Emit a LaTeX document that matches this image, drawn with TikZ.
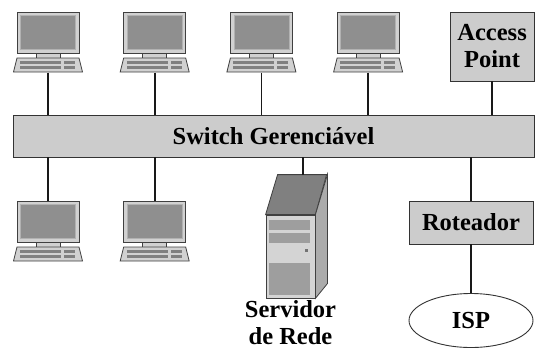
\documentclass[tikz,border=0pt]{standalone}
\usepackage{fontspec}
\setmainfont{Liberation Serif}
\usepackage{tikz}
\usetikzlibrary{calc, arrows, positioning, shapes.geometric}
\newcommand{\fonte}{\bfseries\fontsize{24.5}{27}\selectfont}
\tikzstyle{caixa}=[draw=black!80, fill=black!20, line width=0.9pt, inner sep=0pt, align=center, font=\fonte]
\tikzstyle{nuvem}=[ellipse, draw=black!80, fill=white, line width=0.9pt, minimum width=124pt, minimum height=54pt, inner sep=0pt, font=\fonte]
\tikzstyle{rotulo}=[align=center, inner sep=0pt, font=\fonte]
\tikzstyle{cabo}=[draw=black!90, line width=1.7pt]
\tikzstyle{monitor}=[draw=black!75, fill=black!18, line width=0.8pt, minimum width=62pt, minimum height=41pt, inner sep=0pt,
  path picture={\draw[black!30, fill=black!44, line width=0.6pt] ([shift={(3.5pt,3.5pt)}]path picture bounding box.south west) rectangle ([shift={(-3.5pt,-3.5pt)}]path picture bounding box.north east);}]
\tikzstyle{suporte}=[draw=black!75, fill=black!18, line width=0.8pt, minimum width=24pt, minimum height=5pt, inner sep=0pt]
\tikzstyle{teclado}=[fill=white, minimum width=70pt, minimum height=15pt, inner sep=0pt,
  path picture={\draw[draw=black!75, fill=black!18, line width=0.8pt] ([shift={(4pt,-0.5pt)}]path picture bounding box.north west) -- ([shift={(-4pt,-0.5pt)}]path picture bounding box.north east) -- ([shift={(-0.5pt,0.5pt)}]path picture bounding box.south east) -- ([shift={(0.5pt,0.5pt)}]path picture bounding box.south west) -- cycle;
    \fill[black!50] ([shift={(7pt,-3.5pt)}]path picture bounding box.north west) rectangle ([shift={(48pt,-6.5pt)}]path picture bounding box.north west);
    \fill[black!50] ([shift={(7pt,-8.5pt)}]path picture bounding box.north west) rectangle ([shift={(48pt,-11.5pt)}]path picture bounding box.north west);
    \fill[black!50] ([shift={(51pt,-3.5pt)}]path picture bounding box.north west) rectangle ([shift={(62pt,-6.5pt)}]path picture bounding box.north west);
    \fill[black!50] ([shift={(51pt,-8.5pt)}]path picture bounding box.north west) rectangle ([shift={(62pt,-11.5pt)}]path picture bounding box.north west);}]
\tikzstyle{servidor}=[draw=black!75, fill=black!17, line width=0.8pt, minimum width=49pt, minimum height=83pt, inner sep=0pt]
\newcommand{\computador}[2]{%
  \node [monitor] (#1) [#2] {};
  \node [suporte] (#1s) [below of=#1, node distance=23pt] {};
  \node [teclado] (#1k) [below of=#1, node distance=32.5pt] {};
}

\begin{document}
\begin{tikzpicture}[x=1pt,y=-1pt,node distance=106.7pt]
      \useasboundingbox (0,0) rectangle (536,349);
      \node [caixa, minimum width=521pt, minimum height=42pt] (sw) at (273.5,136) {Switch Gerenciável};

      \computador{pc1}{at={(48,32.5)}}
      \computador{pc2}{right of=pc1}
      \computador{pc3}{right of=pc2}
      \computador{pc4}{right of=pc3}
      \node [caixa, minimum width=84pt, minimum height=69pt] (ap) [right of=pc4, node distance=124pt, yshift=-14pt] {Access\\Point};

      \computador{pc5}{at={(48,221.5)}}
      \computador{pc6}{right of=pc5}

      \node [servidor] (srv) at (290.5,256.5) {};
      \draw[draw=black!75, fill=black!50, line width=0.8pt] (srv.north west) -- ++(12,-40) -- ++(49,0) -- (srv.north east) -- cycle;
      \draw[draw=black!75, fill=black!33, line width=0.8pt] (srv.north east) -- ++(12,-40) -- ++(0,109) -- (srv.south east) -- cycle;
      \fill[black!38] ([shift={(3pt,-5pt)}]srv.north west) rectangle ++(41,10);
      \fill[black!38] ([shift={(3pt,-18pt)}]srv.north west) rectangle ++(41,10);
      \fill[black!55] ([shift={(39pt,-34pt)}]srv.north west) rectangle ++(3,3);
      \fill[black!38] ([shift={(3pt,-48pt)}]srv.north west) rectangle ++(41,32);
      \coordinate (srvtopo) at (303,175);
      \node [rotulo] (srvlbl) [below of=srv, node distance=66.5pt] {Servidor\\de Rede};

      \node [caixa, minimum width=124pt, minimum height=43pt] (rot) at (471,222.5) {Roteador};
      \node [nuvem] (isp) [below of=rot, node distance=98pt] {ISP};

      \path[cabo] (pc1k) edge (pc1k |- sw.north);
      \path[cabo] (pc2k) edge (pc2k |- sw.north);
      \path[cabo] (pc3k) edge (pc3k |- sw.north);
      \path[cabo] (pc4k) edge (pc4k |- sw.north);
      \path[cabo] (ap) edge (ap |- sw.north);
      \path[cabo] (pc5) edge (pc5 |- sw.south);
      \path[cabo] (pc6) edge (pc6 |- sw.south);
      \path[cabo] (srvtopo |- sw.south) edge (srvtopo);
      \path[cabo] (rot) edge (rot |- sw.south);
      \path[cabo] (rot) edge (isp);
\end{tikzpicture}
\end{document}
